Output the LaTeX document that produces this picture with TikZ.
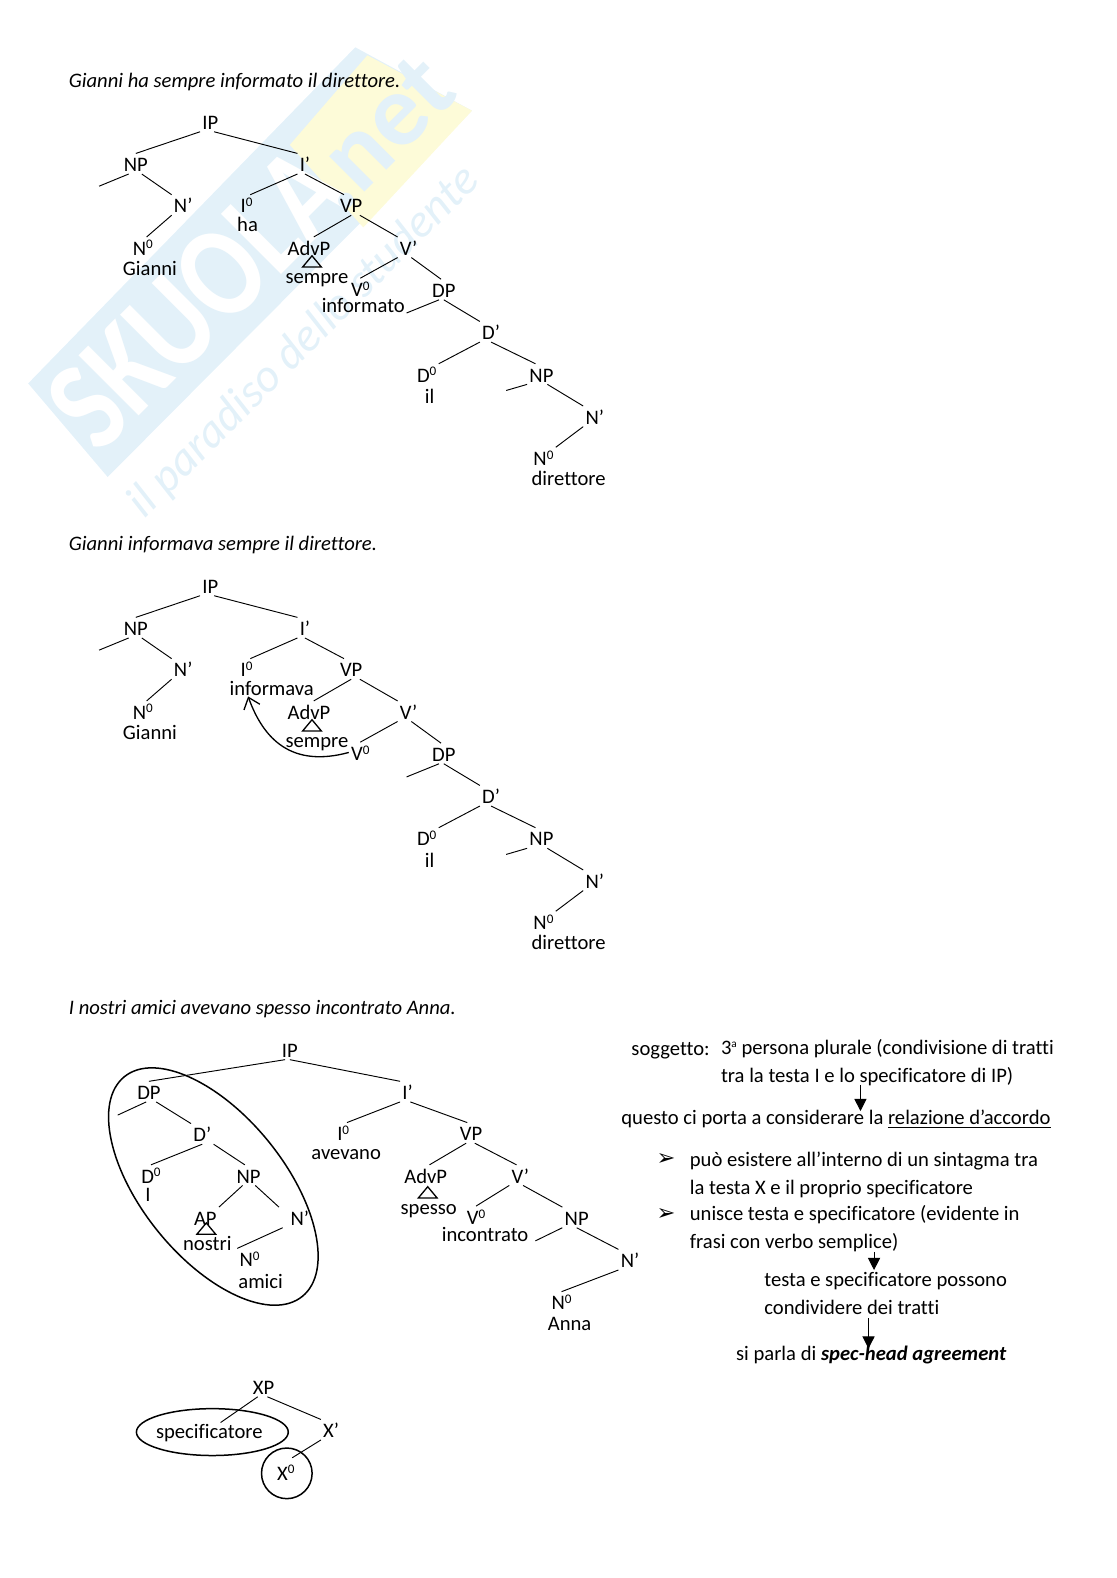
\documentclass[tikz,border=0pt]{standalone}
\usepackage{fontspec}
\setmainfont[Ligatures=NoCommon]{Carlito}
\newfontfamily\dejavu{DejaVu Sans}
\usetikzlibrary{positioning,arrows.meta,shapes.geometric}
\definecolor{wmblue}{HTML}{E3F1F9}
\definecolor{wmyellow}{HTML}{FDFBD8}
\newcommand{\zr}{\raisebox{3.4pt}{\fontsize{7}{8}\selectfont 0}}
\tikzset{
  syn/.style={inner sep=1pt,text height=8.5pt,text depth=0pt,yshift=0.7pt},
  word/.style={inner sep=1pt,text height=7pt,text depth=2pt,yshift=-1.2pt},
  txt/.style={inner sep=0pt,anchor=base west,yshift=-0.8pt},
  tri/.style={isosceles triangle,isosceles triangle apex angle=80,isosceles triangle stretches,shape border rotate=90,draw,line width=0.7pt,inner sep=0pt,minimum height=6pt,minimum width=10pt},
  ring/.style={draw,line width=0.8pt,inner sep=0pt},
  down/.style={-{Triangle[length=6.5pt,width=6.5pt]}}
}
\begin{document}
\begin{tikzpicture}[x=0.5368pt,y=-0.5368pt,line width=0.5pt,font=\fontsize{11}{13}\selectfont]
   \useasboundingbox (0,0) rectangle (1109,1568);
   % watermark
   \fill[wmblue] (28,381) -- (353,47) -- (469,110) -- (107,474) -- cycle;
   \fill[wmyellow] (288,144) -- (365,55) -- (469,110) -- (361,226) -- cycle;
   \node[rotate=45,text=white,font=\bfseries\fontsize{70}{70}\selectfont,inner sep=0pt] (wm1) at (196,296) {\scalebox{.82}[1]{SKUOLA}};
   \node[rotate=45,text=wmblue,font=\bfseries\fontsize{55}{55}\selectfont,inner sep=0pt] (wm2) at (376,132) {.net};
   \node[rotate=45,text=wmblue,font=\itshape\fontsize{25}{25}\selectfont,inner sep=0pt] (wm3) at (302,340) {il paradiso dello studente};
   % first sentence
   \node[txt] (t1) at (68,85) {\itshape Gianni ha sempre informato il direttore.};
   \node[syn] (ip) at (209,122) {IP};
   \node[syn] (np) at (135,164) {NP};
   \node[syn] (ib) at (303,164) {I’};
   \node[syn] (nb) at (182,205) {N’};
   \node[syn] (i0) at (245,205) {I\zr};
   \node[word] (ha) at (246,223) {ha};
   \node[syn] (vp) at (349,205) {VP};
   \node[syn] (n0) at (142,247) {N\zr};
   \node[word] (gi) at (149,267) {Gianni};
   \node[syn] (adv) at (307,247) {AdvP};
   \node[tri] (tr) at (310,261) {};
   \node[word] (se) at (315,275) {sempre};
   \node[syn] (vb) at (406,247) {V’};
   \node[syn] (v0) at (358,288) {V\zr};
   \node[word] (inf) at (361,304) {informato};
   \node[syn] (dp) at (441,289) {DP};
   \node[syn] (db) at (488,331) {D’};
   \node[syn] (d0) at (424,373) {D\zr};
   \node[word] (il) at (427,394) {il};
   \node[syn] (np2) at (538,373) {NP};
   \node[syn] (nb2) at (591,415) {N’};
   \node[syn] (n02) at (540,456) {N\zr};
   \node[word] (dir) at (565,476) {direttore};
   \coordinate (ns) at (98.5,185);
   \coordinate (ds) at (404,311);
   \coordinate (ns2) at (503,388);
   \draw (ip.south west) -- (np.north);
   \draw (ip.-70) -- (ib.north west);
   \draw (np.235) -- (ns);
   \draw (np.-60) -- (nb.north west);
   \draw (nb.south west) -- (n0.70);
   \draw (ib.south west) -- (i0.70);
   \draw (ib.south) -- (vp.125);
   \draw (vp.south) -- (adv.65);
   \draw (vp.-50) -- (vb.north west);
   \draw (vb.south west) -- (v0.north);
   \draw (vb.-75) -- (dp.105);
   \draw (dp.-115) -- (ds);
   \draw (dp.south) -- (db.north west);
   \draw (db.south west) -- (d0.north east);
   \draw (db.south) -- (np2.120);
   \draw (np2.south west) -- (ns2);
   \draw (np2.-60) -- (nb2.north west);
   \draw (nb2.south west) -- (n02.north east);
   % second sentence
   \node[txt] (t2) at (68,546) {\itshape Gianni informava sempre il direttore.};
   \node[syn] (bip) at (209,583) {IP};
   \node[syn] (bnp) at (135,625) {NP};
   \node[syn] (bib) at (303,625) {I’};
   \node[syn] (bnb) at (182,666) {N’};
   \node[syn] (bi0) at (245,666) {I\zr};
   \node[word] (binf) at (270,684) {informava};
   \node[syn] (bvp) at (349,666) {VP};
   \node[syn] (bn0) at (142,708) {N\zr};
   \node[word] (bgi) at (149,728) {Gianni};
   \node[syn] (badv) at (307,708) {AdvP};
   \node[tri] (btr) at (310,722) {};
   \node[word] (bse) at (315,736) {sempre};
   \node[syn] (bvb) at (406,708) {V’};
   \node[syn] (bv0) at (358,749) {V\zr};
   \node[syn] (bdp) at (441,750) {DP};
   \node[syn] (bdb) at (488,792) {D’};
   \node[syn] (bd0) at (424,834) {D\zr};
   \node[word] (bil) at (427,855) {il};
   \node[syn] (bnp2) at (538,834) {NP};
   \node[syn] (bnb2) at (591,876) {N’};
   \node[syn] (bn02) at (540,917) {N\zr};
   \node[word] (bdir) at (565,937) {direttore};
   \coordinate (bns) at (98.5,646);
   \coordinate (bds) at (404,772);
   \coordinate (bns2) at (503,849);
   \coordinate (btip) at (246.5,692);
   \draw (bip.south west) -- (bnp.north);
   \draw (bip.-70) -- (bib.north west);
   \draw (bnp.235) -- (bns);
   \draw (bnp.-60) -- (bnb.north west);
   \draw (bnb.south west) -- (bn0.70);
   \draw (bib.south west) -- (bi0.70);
   \draw (bib.south) -- (bvp.125);
   \draw (bvp.south) -- (badv.65);
   \draw (bvp.-50) -- (bvb.north west);
   \draw (bvb.south west) -- (bv0.north);
   \draw (bvb.-75) -- (bdp.105);
   \draw (bdp.-115) -- (bds);
   \draw (bdp.south) -- (bdb.north west);
   \draw (bdb.south west) -- (bd0.north east);
   \draw (bdb.south) -- (bnp2.120);
   \draw (bnp2.south west) -- (bns2);
   \draw (bnp2.-60) -- (bnb2.north west);
   \draw (bnb2.south west) -- (bn02.north east);
   \draw[-{Straight Barb[length=5.5pt,width=9pt]},line width=0.7pt] (bv0.west) .. controls (290,763) and (262,735) .. (btip);
   % third sentence
   \node[txt] (t3) at (68,1007) {\itshape I nostri amici avevano spesso incontrato Anna.};
   \node[syn] (cip) at (288,1044) {IP};
   \node[syn] (cdp) at (148,1086) {DP};
   \node[syn] (cib) at (405,1086) {I’};
   \node[syn] (cdb) at (201,1128) {D’};
   \node[syn] (ci0) at (341,1127) {I\zr};
   \node[word] (cav) at (344,1145) {avevano};
   \node[syn] (cvp) at (468,1127) {VP};
   \node[syn] (cd0) at (150,1169) {D\zr};
   \node[word] (cdet) at (147,1187) {I};
   \node[syn] (cnp) at (247,1169) {NP};
   \node[syn] (cadv) at (423,1169) {AdvP};
   \node[syn] (cvb) at (517,1169) {V’};
   \node[syn] (cap) at (204,1211) {AP};
   \node[tri] (ctr) at (205,1222) {};
   \node[word] (cno) at (206,1236) {nostri};
   \node[syn] (cnb) at (298,1211) {N’};
   \node[syn] (cn0) at (248,1252) {N\zr};
   \node[word] (cam) at (259,1273) {amici};
   \node[tri] (ctr2) at (425,1186) {};
   \node[word] (csp) at (426,1200) {spesso};
   \node[syn] (cv0) at (473,1210) {V\zr};
   \node[word] (cinc) at (482,1227) {incontrato};
   \node[syn] (cnp2) at (573,1211) {NP};
   \node[syn] (cnb2) at (626,1253) {N’};
   \node[syn] (cn02) at (558,1295) {N\zr};
   \node[word] (can) at (566,1315) {Anna};
   \coordinate (cds) at (117,1108);
   \coordinate (cns) at (532,1233);
   \draw (cip.-115) -- (cdp.north);
   \draw (cip.south) -- (cib.north west);
   \draw (cdp.-105) -- (cds);
   \draw (cdp.-55) -- (cdb.north west);
   \draw (cdb.south) -- (cd0.north);
   \draw (cdb.south east) -- (cnp.110);
   \draw (cnp.-120) -- (cap.north east);
   \draw (cnp.-57) -- ([xshift=-5pt]cnb.north west);
   \draw ([xshift=-3pt]cnb.south west) -- (cn0.north west);
   \draw (cib.south west) -- (ci0.70);
   \draw (cib.-75) -- (cvp.110);
   \draw (cvp.-115) -- (cadv.70);
   \draw (cvp.-70) -- (cvb.110);
   \draw (cvb.south west) -- (cv0.north);
   \draw (cvb.-75) -- (cnp2.north west);
   \draw (cnp2.south west) -- (cns);
   \draw (cnp2.south) -- (cnb2.north west);
   \draw (cnb2.south west) -- (cn02.north);
   \node[ring,ellipse,rotate=-51,minimum width=150.8pt,minimum height=76pt] (subj) at (212,1179) {};
   % xbar scheme
   \node[syn] (xp) at (262,1379) {XP};
   \node[word] (spec) at (208,1422) {specificatore};
   \node[ring,ellipse,minimum width=81pt,minimum height=25pt] (specring) at (211,1423) {};
   \node[syn] (xb) at (329,1422) {X’};
   \node[ring,circle,minimum size=27pt] (x0ring) at (285,1464) {};
   \node[syn] (x0) at (284,1464) {X\zr};
   \draw (xp.-120) -- ([xshift=6pt]spec.north);
   \draw (xp.-70) -- (xb.north west);
   \draw[shorten >=4pt] (xb.225) -- (x0.north);
   % notes
   \node[txt] (so) at (627,1047) {soggetto:};
   \node[txt] (l1) at (716,1046) {3\raisebox{3.4pt}{\fontsize{6}{7}\selectfont a} persona plurale (condivisione di tratti};
   \node[txt] (l2) at (716,1074) {tra la testa I e lo specificatore di IP)};
   \node[txt] (l3) at (617,1116) {questo ci porta a considerare la \underline{relazione d’accordo}};
   \node[txt] (b1) at (652,1157) {\dejavu\fontsize{12}{14}\selectfont ➢};
   \node[txt] (l4) at (685,1158) {può esistere all’interno di un sintagma tra};
   \node[txt] (l5) at (685,1185) {la testa X e il proprio specificatore};
   \node[txt] (b2) at (652,1211) {\dejavu\fontsize{12}{14}\selectfont ➢};
   \node[txt] (l6) at (685,1211) {unisce testa e specificatore (evidente in};
   \node[txt] (l7) at (685,1239) {frasi con verbo semplice)};
   \node[txt] (l8) at (759,1277) {testa e specificatore possono};
   \node[txt] (l9) at (759,1305) {condividere dei tratti};
   \node[txt] (l10) at (731,1350) {si parla di \textbf{\textit{spec-head agreement}}};
   \coordinate (a1) at (855,1078);
   \coordinate (a1e) at (855,1104);
   \coordinate (a2) at (868.5,1244);
   \coordinate (a2e) at (868.5,1262);
   \coordinate (a3) at (863,1310);
   \coordinate (a3e) at (863,1340);
   \draw[down] (a1) -- (a1e);
   \draw[down] (a2) -- (a2e);
   \draw[down] (a3) -- (a3e);
\end{tikzpicture}
\end{document}
